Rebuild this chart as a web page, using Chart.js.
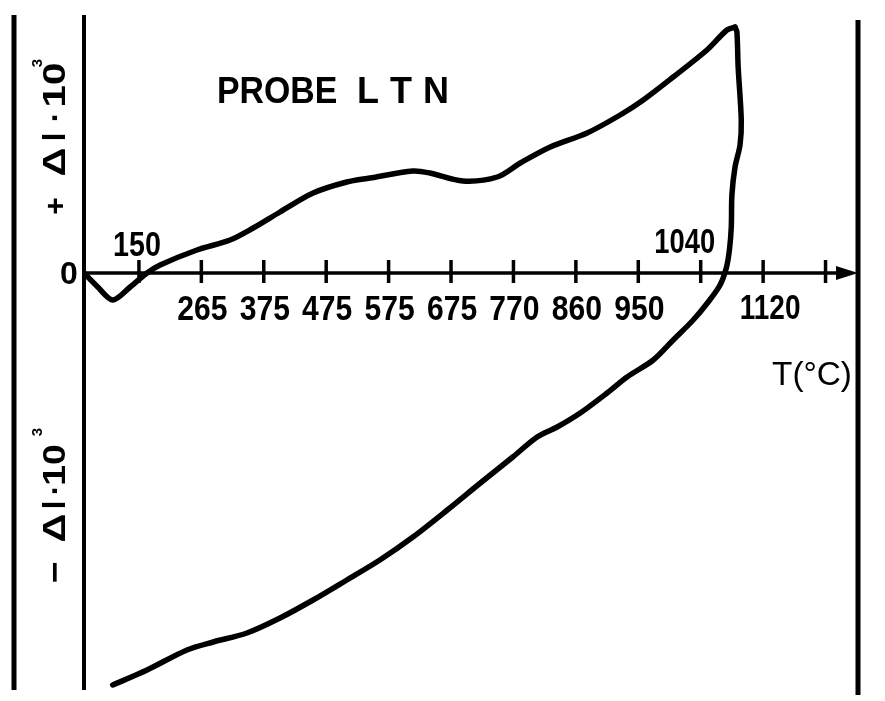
<!DOCTYPE html>
<html>
<head>
<meta charset="utf-8">
<title>PROBE L T N</title>
<script src="https://cdn.jsdelivr.net/npm/chart.js@4.4.1/dist/chart.umd.min.js"></script>
<style>
  html, body { margin: 0; padding: 0; background: #fff; overflow: hidden; }
  canvas { display: block; }
</style>
</head>
<body>
<canvas id="c" width="885" height="701"></canvas>
<script>
// Temperature labels (°C) at the equally spaced axis ticks 1..12
const tickLabels = ['150', '265', '375', '475', '575', '675', '770', '860', '950', '1040', '1120', ''];

// Heating branch: position along the temperature axis (tick units) and elongation Δl·10³
const heatX = [0.12, 0.34, 0.58, 0.86, 1.13, 1.34, 1.93, 2.46, 2.83, 3.26, 3.79, 4.33, 4.70,
               5.39, 5.66, 6.19, 6.74, 7.11, 7.59, 8.18, 8.71, 9.08, 9.56, 10.10, 10.42, 10.55];
const heatY = [0, -1.4, -2.7, -1.4, 0, 0.8, 2.3, 3.3, 4.5, 6.1, 8.0, 9.1, 9.5,
               10.2, 10.0, 9.2, 9.6, 11.0, 12.6, 14.0, 15.8, 17.3, 19.6, 22.3, 24.3, 24.6];

// Cooling branch, from the maximum back down to room temperature
const coolX = [10.55, 10.58, 10.60, 10.65, 10.63, 10.55, 10.50, 10.49, 10.46, 10.41, 10.31,
               10.12, 9.88, 9.56, 9.24, 8.82, 8.50, 8.07, 7.70, 7.38, 6.99, 6.47, 5.94, 5.39,
               4.86, 4.33, 3.79, 3.26, 2.73, 2.19, 1.77, 1.13, 0.58];
const coolY = [24.6, 24.1, 20.6, 15.3, 12.8, 10.6, 7.8, 4.6, 2.3, 0.5, -1.2,
               -2.9, -4.7, -6.7, -8.7, -10.4, -12.0, -14.0, -15.4, -16.4, -18.4, -21.0, -23.7, -26.4,
               -28.7, -30.7, -32.7, -34.5, -36.0, -36.9, -37.7, -39.7, -41.2];

const toPoints = (xs, ys) => xs.map((x, i) => ({ x, y: ys[i] }));

const FONT = '"Liberation Sans", Arial, sans-serif';

function stroke(ctx, x1, y1, x2, y2, w) {
  ctx.lineWidth = w;
  ctx.beginPath();
  ctx.moveTo(x1, y1);
  ctx.lineTo(x2, y2);
  ctx.stroke();
}

// Horizontal text, centred on cx, with its baseline at by
function text(ctx, s, cx, by, size, sx, weight) {
  ctx.save();
  ctx.translate(cx, by);
  ctx.scale(sx, 1);
  ctx.font = (weight || 'bold') + ' ' + size + 'px ' + FONT;
  ctx.textAlign = 'center';
  ctx.textBaseline = 'alphabetic';
  ctx.fillText(s, 0, 0);
  ctx.restore();
}

// Text turned to read upwards; bx is the baseline column, cy the centre along the text,
// sx stretches the glyphs along the reading direction
function upText(ctx, s, bx, cy, size, sx) {
  ctx.save();
  ctx.translate(bx, cy);
  ctx.rotate(-Math.PI / 2);
  ctx.scale(sx || 1, 1);
  ctx.font = 'bold ' + size + 'px ' + FONT;
  ctx.textAlign = 'center';
  ctx.textBaseline = 'alphabetic';
  ctx.fillText(s, 0, 0);
  ctx.restore();
}

const diagramFrame = {
  id: 'diagramFrame',
  beforeDraw(chart) {
    const { ctx, width, height } = chart;
    ctx.save();
    ctx.fillStyle = '#fff';
    ctx.fillRect(0, 0, width, height);
    ctx.restore();
  },
  afterDraw(chart) {
    const { ctx, chartArea: a, scales: { x, y } } = chart;
    const y0 = y.getPixelForValue(0);
    ctx.save();
    ctx.strokeStyle = '#000';
    ctx.fillStyle = '#000';
    ctx.lineCap = 'butt';

    // vertical rules
    stroke(ctx, 14, a.top, 14, a.bottom, 5);
    stroke(ctx, a.left, a.top, a.left, a.bottom, 4);
    stroke(ctx, a.right, a.top + 5, a.right, a.bottom + 5, 5);

    // temperature axis with arrow
    const xEnd = x.getPixelForValue(x.max);
    stroke(ctx, a.left, y0, xEnd - 16, y0, 3.5);
    ctx.beginPath();
    ctx.moveTo(xEnd, y0);
    ctx.lineTo(xEnd - 22, y0 - 7);
    ctx.lineTo(xEnd - 22, y0 + 7);
    ctx.closePath();
    ctx.fill();

    // tick marks and labels
    tickLabels.forEach((lab, i) => {
      const px = x.getPixelForValue(i + 1);
      stroke(ctx, px, y0 - 13, px, y0 + 10, 3.5);
      if (!lab) return;
      if (lab === '150') text(ctx, lab, px - 2, y0 - 17, 35, 0.82);
      else if (lab === '1040') text(ctx, lab, px - 16, y0 - 20, 35, 0.78);
      else if (lab === '1120') text(ctx, lab, px + 7, y0 + 46, 35, 0.8);
      else text(ctx, lab, px + 1, y0 + 47, 35, 0.86);
    });

    text(ctx, '0', 69, y0 + 11, 32, 1);
    text(ctx, 'T(°C)', 812, y0 + 112, 34, 0.98, 'normal');

    // title
    ctx.save();
    ctx.font = 'bold 36px ' + FONT;
    ctx.textAlign = 'left';
    ctx.textBaseline = 'alphabetic';
    ctx.save();
    ctx.translate(217, 103);
    ctx.scale(0.94, 1);
    ctx.fillText('PROBE', 0, 0);
    ctx.restore();
    ctx.fillText('L', 357, 103);
    ctx.fillText('T', 390, 103);
    ctx.fillText('N', 423, 103);
    ctx.restore();

    // ordinate captions
    upText(ctx, '+', 65, 206, 30);
    upText(ctx, 'Δ', 65, 162, 31, 1.3);
    upText(ctx, 'l', 65, 137, 31);
    upText(ctx, '·', 65, 117, 31);
    upText(ctx, '10', 65, 85, 31, 1.3);
    upText(ctx, '3', 42, 63, 15);

    upText(ctx, '−', 66, 572, 34, 1.1);
    upText(ctx, 'Δ', 65, 528, 31, 1.3);
    upText(ctx, 'l', 65, 505, 31);
    upText(ctx, '·', 65, 490, 31);
    upText(ctx, '10', 65, 465, 31, 1.2);
    upText(ctx, '3', 42, 432, 15);

    ctx.restore();
  }
};

const curveStyle = {
  showLine: true,
  borderColor: '#000',
  backgroundColor: '#000',
  borderWidth: 5.5,
  borderCapStyle: 'round',
  borderJoinStyle: 'round',
  pointRadius: 0,
  tension: 0.3,
  fill: false
};

new Chart(document.getElementById('c'), {
  type: 'scatter',
  data: {
    datasets: [
      Object.assign({ label: 'Erwärmung', data: toPoints(heatX, heatY) }, curveStyle),
      Object.assign({ label: 'Abkühlung', data: toPoints(coolX, coolY) }, curveStyle)
    ]
  },
  options: {
    responsive: false,
    animation: false,
    devicePixelRatio: 1,
    layout: { padding: { left: 84, right: 27, top: 15, bottom: 11 } },
    plugins: { legend: { display: false }, tooltip: { enabled: false } },
    scales: {
      x: { type: 'linear', min: 0.12, max: 12.52, display: false },
      y: { type: 'linear', min: -41.7, max: 25.8, display: false }
    }
  },
  plugins: [diagramFrame]
});
</script>
</body>
</html>
